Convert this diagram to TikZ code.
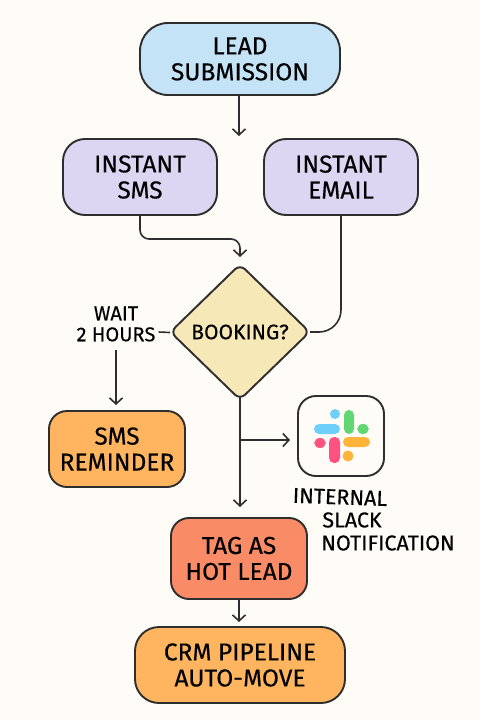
\documentclass[tikz,border=0pt]{standalone}
\usepackage{fontspec}
\setmainfont[FakeBold=0.35]{Fira Sans}
\usetikzlibrary{arrows.meta,shapes.geometric}
\definecolor{bgc}{HTML}{FFFCF7}
\definecolor{ink}{HTML}{2E2E2E}
\definecolor{bluef}{HTML}{C5E3F7}
\definecolor{lilac}{HTML}{DCD6F2}
\definecolor{sand}{HTML}{F7E8B8}
\definecolor{amber}{HTML}{FFB55F}
\definecolor{coral}{HTML}{F98B66}
\tikzset{
  x=1pt,y=-1pt,
  boxnode/.style={draw=ink,line width=1.9pt,align=center,inner sep=0pt,font=\fontsize{24.5}{26}\selectfont,text=black},
  lbl/.style={align=center,inner sep=0pt,font=\fontsize{20}{21}\selectfont,text=black},
  slacklbl/.style={lbl,font=\fontsize{21.5}{23}\selectfont},
  conn/.style={draw=ink,line width=1.6pt,rounded corners=9pt},
  tip/.style={-{Straight Barb[length=6pt,width=13pt,line width=1.6pt]}},
}
\begin{document}
\begin{tikzpicture}
\useasboundingbox (0,0) rectangle (480,720);
\fill[bgc] (0,0) rectangle (480,720);
\node[boxnode,fill=bluef,minimum width=200pt,minimum height=72pt,rounded corners=28pt] (lead) at (240,59) {LEAD\\SUBMISSION};
\node[boxnode,fill=lilac,minimum width=154pt,minimum height=76pt,rounded corners=22pt] (sms) at (140,177) {INSTANT\\SMS};
\node[boxnode,fill=lilac,minimum width=154pt,minimum height=76pt,rounded corners=22pt] (email) at (341,177) {INSTANT\\EMAIL};
\node[boxnode,fill=sand,shape=diamond,minimum width=140pt,minimum height=136pt,rounded corners=7pt,font=\fontsize{21}{26}\selectfont] (book) at (240,332) {BOOKING?};
\node[lbl] (wait) at (116,324) {WAIT\\2 HOURS};
\node[boxnode,fill=amber,minimum width=136pt,minimum height=76pt,rounded corners=18pt] (rem) at (117,449) {SMS\\REMINDER};
\node[boxnode,fill=coral,minimum width=136pt,minimum height=81pt,rounded corners=18pt] (tag) at (239,558.5) {TAG AS\\HOT LEAD};
\node[boxnode,fill=amber,minimum width=210pt,minimum height=76pt,rounded corners=24pt] (crm) at (240,665) {CRM PIPELINE\\AUTO-MOVE};
\node[draw=ink,line width=1.9pt,fill=bgc,minimum width=86pt,minimum height=80pt,rounded corners=18pt,inner sep=0pt] (slack) at (341,436) {};
\fill[color={rgb,255:red,110;green,208;blue,250}] (335,414) circle (5);
\fill[color={rgb,255:red,110;green,208;blue,250},rounded corners=5pt] (314,424) rectangle (340,434);
\fill[color={rgb,255:red,98;green,214;blue,112},rounded corners=5pt] (344,410) rectangle (354,434);
\fill[color={rgb,255:red,98;green,214;blue,112}] (363,429) ellipse (5.8 and 5);
\fill[color={rgb,255:red,255;green,82;blue,128}] (320,443) ellipse (5.8 and 5);
\fill[color={rgb,255:red,255;green,82;blue,128},rounded corners=5pt] (329,437) rectangle (340,463);
\fill[color={rgb,255:red,255;green,180;blue,58},rounded corners=5pt] (343,437) rectangle (370,447);
\fill[color={rgb,255:red,255;green,180;blue,58}] (348,456) circle (5.5);
\node[slacklbl,rotate=-2] (n1) at (340,497) {INTERNAL};
\node[slacklbl] (n2) at (352,520) {SLACK};
\node[slacklbl] (n3) at (388,543) {NOTIFICATION};
\coordinate (e1) at (239,136);
\coordinate (e2) at (240,257);
\coordinate (e3) at (240,507);
\coordinate (e4) at (290,440);
\coordinate (e5) at (239,622);
\coordinate (e6) at (116,405);
\coordinate (b0) at (240,397);
\coordinate (b1) at (240,440);
\coordinate (r0) at (310,332);
\coordinate (w0) at (116,350);
\draw[conn,tip] (lead.south -| e1) -- (e1);
\draw[conn,tip] (sms.south) -- (140,239) -- (240,239) -- (e2);
\draw[conn,rounded corners=22pt] (email.south) -- (341,332) -- (r0);
\draw[conn] (wait.east |- book) ++(3,0) -- (170,332.5);
\draw[conn,tip] (w0) -- (e6);
\draw[conn,tip] (b0) -- (e3);
\draw[conn,tip] (b1) -- (e4);
\draw[conn,tip] (tag.south -| e5) -- (e5);
\end{tikzpicture}
\end{document}
